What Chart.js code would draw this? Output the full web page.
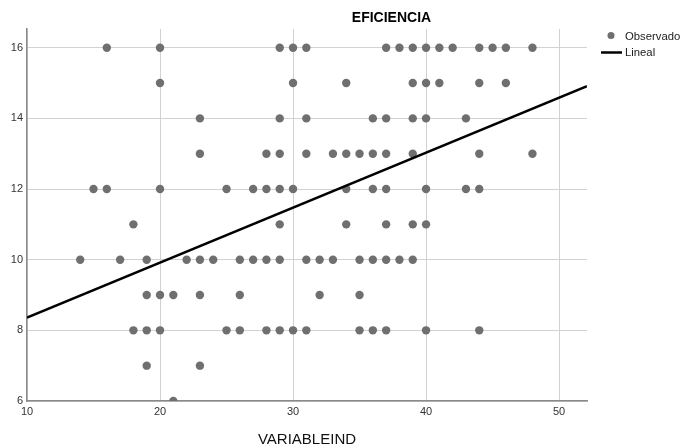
<!DOCTYPE html>
<html><head><meta charset="utf-8">
<script src="https://cdn.jsdelivr.net/npm/chart.js@4/dist/chart.umd.min.js"></script>
<style>html,body{margin:0;padding:0;background:#fff}#wrap{width:681px;height:448px;position:relative}</style>
</head><body><div id="wrap"><canvas id="c" width="681" height="448"></canvas></div>
<script>
// ---- data ----
const chartTitle = "EFICIENCIA";
const xAxisTitle = "VARIABLEIND";
const legendLabels = ["Observado", "Lineal"];
const xTicks = [10, 20, 30, 40, 50];
const yTicks = [6, 8, 10, 12, 14, 16];

// observed points (VARIABLEIND, EFICIENCIA)
const variableInd = [
  16,20,29,30,31,37,38,39,40,41,42,44,45,46,48,
  20,30,34,39,40,41,44,46,
  23,29,31,36,37,39,40,43,
  23,28,29,31,33,34,35,36,37,39,44,48,
  15,16,20,25,27,28,29,30,34,36,37,40,43,44,
  18,29,34,37,39,40,
  14,17,19,22,23,24,26,27,28,29,31,32,33,35,36,37,38,39,
  19,20,21,23,26,32,35,
  18,19,20,25,26,28,29,30,31,35,36,37,40,44,
  19,23,
  21
];
const eficiencia = [
  16,16,16,16,16,16,16,16,16,16,16,16,16,16,16,
  15,15,15,15,15,15,15,15,
  14,14,14,14,14,14,14,14,
  13,13,13,13,13,13,13,13,13,13,13,13,
  12,12,12,12,12,12,12,12,12,12,12,12,12,12,
  11,11,11,11,11,11,
  10,10,10,10,10,10,10,10,10,10,10,10,10,10,10,10,10,10,
  9,9,9,9,9,9,9,
  8,8,8,8,8,8,8,8,8,8,8,8,8,8,
  7,7,
  6
];
// fitted linear line endpoints
const linealX = [10, 52.1];
const linealY = [8.36, 14.91];

const pointColor = '#6f6f6f';

const overlay = {
  id: 'overlay',
  afterDraw(chart) {
    const ctx = chart.ctx;
    ctx.save();
    ctx.fillStyle = '#000';
    ctx.font = 'bold 14px "Liberation Sans", Arial, sans-serif';
    ctx.textAlign = 'center';
    ctx.textBaseline = 'middle';
    ctx.fillText(chartTitle, 391.5, 18);
    // legend
    ctx.fillStyle = pointColor;
    ctx.beginPath(); ctx.arc(611, 35.5, 3.5, 0, Math.PI * 2); ctx.fill();
    ctx.strokeStyle = '#000'; ctx.lineWidth = 2.5;
    ctx.beginPath(); ctx.moveTo(601, 52.5); ctx.lineTo(622, 52.5); ctx.stroke();
    ctx.fillStyle = '#222';
    ctx.font = '11.3px "Liberation Sans", Arial, sans-serif';
    ctx.textAlign = 'left';
    ctx.fillText(legendLabels[0], 625, 37);
    ctx.fillText(legendLabels[1], 625, 53);
    ctx.restore();
  }
};

new Chart(document.getElementById('c'), {
  data: {
    datasets: [
      {
        type: 'line',
        label: legendLabels[1],
        data: linealX.map((x, i) => ({ x, y: linealY[i] })),
        borderColor: '#000', borderWidth: 2.5, pointRadius: 0, fill: false, order: 0
      },
      {
        type: 'scatter',
        label: legendLabels[0],
        data: variableInd.map((x, i) => ({ x, y: eficiencia[i] })),
        backgroundColor: pointColor, borderColor: pointColor, borderWidth: 0,
        pointRadius: 4.2, order: 1
      }
    ]
  },
  options: {
    responsive: false, animation: false, devicePixelRatio: 1,
    layout: { padding: { left: 0, right: 94, top: 29, bottom: 0 } },
    plugins: { legend: { display: false }, tooltip: { enabled: false }, title: { display: false } },
    scales: {
      x: {
        type: 'linear', min: 10, max: 52.1,
        afterBuildTicks: s => { s.ticks = xTicks.map(v => ({ value: v })); },
        afterFit: s => { s.height = 47; },
        grid: { color: '#d2d2d2', lineWidth: 1, drawTicks: false },
        border: { color: '#8a8a8a', width: 1.5 },
        ticks: { color: '#333', font: { family: '"Liberation Sans", Arial', size: 11 }, padding: 4, maxRotation: 0 },
        title: { display: true, text: xAxisTitle, color: '#111', font: { family: '"Liberation Sans", Arial', size: 15 }, padding: { top: 0, bottom: -1 } }
      },
      y: {
        type: 'linear', min: 6, max: 16.53,
        afterBuildTicks: s => { s.ticks = yTicks.map(v => ({ value: v })); },
        afterFit: s => { s.width = 27; },
        grid: { color: '#d2d2d2', lineWidth: 1, drawTicks: false },
        border: { color: '#8a8a8a', width: 1.5 },
        ticks: { color: '#333', font: { family: '"Liberation Sans", Arial', size: 11 }, padding: 4 }
      }
    }
  },
  plugins: [overlay]
});
</script>
</body></html>
